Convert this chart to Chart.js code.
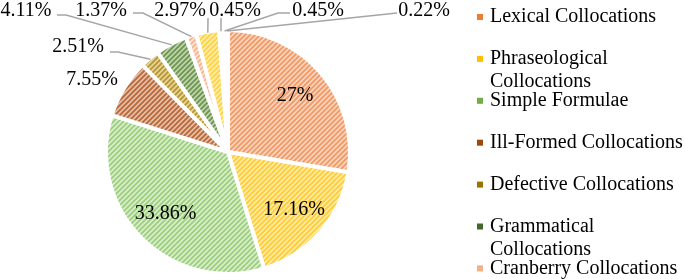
<!DOCTYPE html>
<html>
<head>
<meta charset="utf-8">
<script src="https://cdn.jsdelivr.net/npm/chart.js@4.4.0/dist/chart.umd.min.js"></script>
<style>
  html, body { margin: 0; background: #fff; }
  #wrap { width: 685px; height: 279px; }
</style>
</head>
<body>
<div id="wrap"><canvas id="collocations"></canvas></div>
<script>
// categories in clockwise order from 12 o'clock (last four fall off the legend)
const categories = [
  'Lexical Collocations', 'Phraseological Collocations', 'Simple Formulae',
  'Ill-Formed Collocations', 'Defective Collocations', 'Grammatical Collocations',
  'Cranberry Collocations', 'Other 1', 'Other 2', 'Other 3', 'Other 4'
];
const shares = [27, 17.16, 33.86, 7.55, 2.51, 4.11, 1.37, 2.97, 0.45, 0.45, 0.22];
const shareLabels = ['27%', '17.16%', '33.86%', '7.55%', '2.51%', '4.11%', '1.37%', '2.97%', '0.45%', '0.45%', '0.22%'];

// legend swatch colour, hatch stripe and hatch base of each slice
const swatchColors = ['#ED7D31', '#FFC000', '#70AD47', '#9E480E', '#997300', '#43682B',
                      '#F4B183', '#FFD966', '#A9D18E', '#D9A07E', '#C9B66A'];
const stripeColors = ['#F19A66', '#FFCC33', '#9CCF7C', '#B8683A', '#B8962E', '#6E9450',
                      '#F6B48E', '#FFD23F', '#C6E3B3', '#EBC7B2', '#E3D79F'];
const baseColors   = ['#FBD5BE', '#FFEBA8', '#D9EDCC', '#E6BFA5', '#E6D49A', '#BFD6AE',
                      '#FCE2D3', '#FFEDB0', '#EEF7E8', '#F7E6DC', '#F4EED6'];

const FONT = "'Liberation Serif', 'Times New Roman', serif";

const hatch = (fg, bg) => {
  let s = 5, c = document.createElement('canvas');
  c.width = s; c.height = s;
  let g = c.getContext('2d');
  g.fillStyle = bg;
  g.fillRect(0, 0, s, s);
  g.strokeStyle = fg;
  g.lineWidth = 1.8;
  g.beginPath();
  g.moveTo(-1, s + 1); g.lineTo(s + 1, -1);
  g.moveTo(-1, 1); g.lineTo(1, -1);
  g.moveTo(s - 1, s + 1); g.lineTo(s + 1, s - 1);
  g.stroke();
  return g.createPattern(c, 'repeat');
};

// where the small slices get their labels: text centre, then the start of the leader line
const callouts = {
  3:  { text: [92, 80] },
  4:  { text: [78, 47],  line: [[110, 52], [118, 52]] },
  5:  { text: [26, 11],  line: [[57, 15], [66, 15]] },
  6:  { text: [101, 11], line: [[133, 13], [143, 13]] },
  7:  { text: [180, 11], line: [[208, 18]] },
  8:  { text: [235, 11], line: [[221, 18]] },
  9:  { text: [318, 11], line: [[290, 13], [278, 13]] },
  10: { text: [424, 11], line: [[397, 13]] }
};

const sliceLabels = {
  id: 'sliceLabels',
  afterDatasetsDraw(chart) {
    let ctx = chart.ctx;
    let arcs = chart.getDatasetMeta(0).data;
    ctx.save();
    ctx.font = '20px ' + FONT;
    ctx.fillStyle = '#000';
    ctx.textAlign = 'center';
    ctx.textBaseline = 'middle';
    arcs.forEach((arc, i) => {
      let { x, y, startAngle, endAngle, outerRadius } = arc.getProps(['x', 'y', 'startAngle', 'endAngle', 'outerRadius'], true);
      let mid = (startAngle + endAngle) / 2;
      let spot = callouts[i];
      if (!spot) {
        let r = outerRadius * 0.72;
        ctx.fillText(shareLabels[i], x + Math.cos(mid) * r, y + Math.sin(mid) * r);
        return;
      }
      if (spot.line) {
        let r = outerRadius - 1;
        ctx.strokeStyle = '#A6A6A6';
        ctx.lineWidth = 1.5;
        ctx.beginPath();
        spot.line.forEach(([px, py], k) => k ? ctx.lineTo(px, py) : ctx.moveTo(px, py));
        ctx.lineTo(x + Math.cos(mid) * r, y + Math.sin(mid) * r);
        ctx.stroke();
      }
      ctx.fillText(shareLabels[i], spot.text[0], spot.text[1]);
    });
    ctx.restore();
  }
};

const sideLegend = {
  id: 'sideLegend',
  afterDraw(chart) {
    let ctx = chart.ctx;
    let left = 477, textX = 490, top = 17, step = 41.9, lineH = 23;
    let maxW = chart.width - textX - 2;
    ctx.save();
    ctx.font = '20px ' + FONT;
    ctx.textAlign = 'left';
    ctx.textBaseline = 'middle';
    categories.forEach((name, i) => {
      let y = top + i * step;
      ctx.fillStyle = swatchColors[i];
      ctx.fillRect(left, y - 3, 6, 6);
      ctx.fillStyle = '#000';
      let words = name.split(' '), line = '', rows = [];
      words.forEach(w => {
        let test = line ? line + ' ' + w : w;
        if (line && ctx.measureText(test).width > maxW) { rows.push(line); line = w; }
        else line = test;
      });
      rows.push(line);
      rows.forEach((t, k) => ctx.fillText(t, textX, y + k * lineH));
    });
    ctx.restore();
  }
};

new Chart('collocations', {
  type: 'pie',
  plugins: [sliceLabels, sideLegend],
  data: {
    labels: categories,
    datasets: [{
      data: shares,
      backgroundColor: stripeColors.map((c, i) => hatch(c, baseColors[i])),
      borderColor: '#fff',
      borderWidth: 4
    }]
  },
  options: {
    responsive: true,
    maintainAspectRatio: false,
    animation: false,
    layout: { padding: { left: 104, right: 333, top: 28, bottom: 3 } },
    plugins: {
      legend: { display: false },
      tooltip: { enabled: false }
    }
  }
});
</script>
</body>
</html>
